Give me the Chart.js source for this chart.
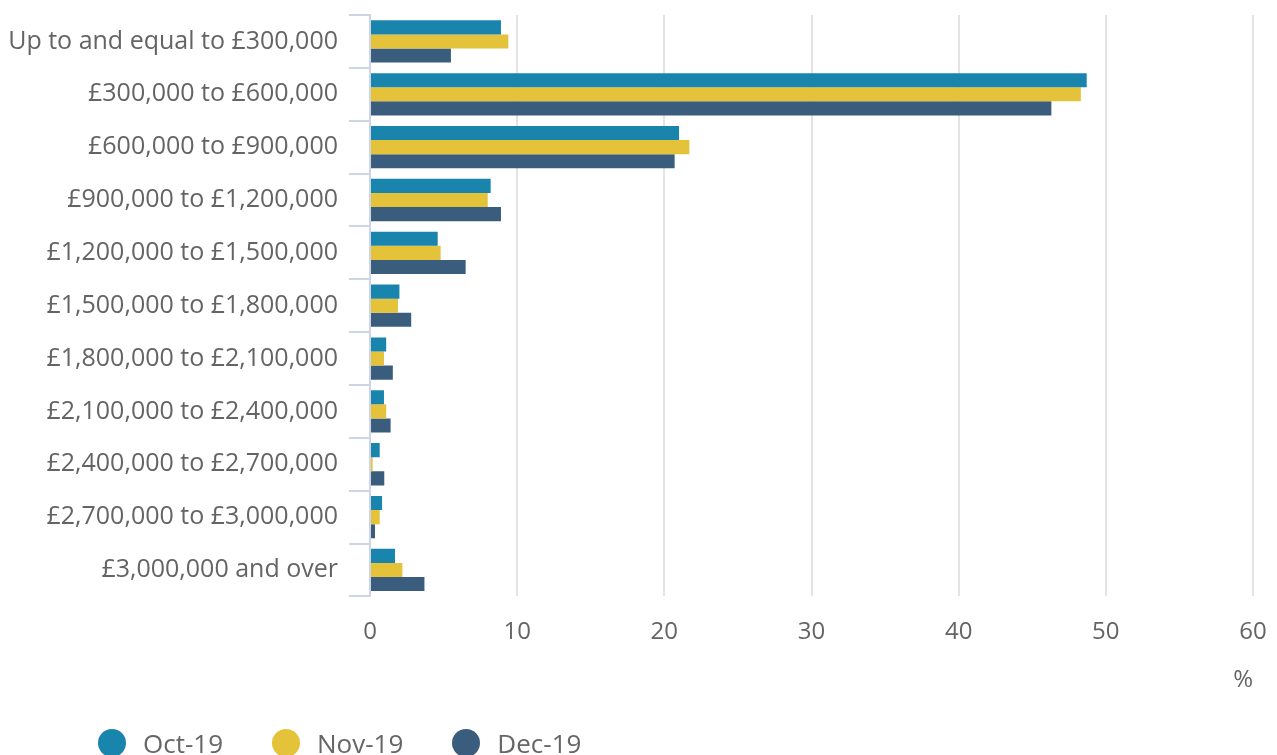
<!DOCTYPE html>
<html>
<head>
<meta charset="utf-8">
<script src="https://cdn.jsdelivr.net/npm/chart.js@4/dist/chart.umd.min.js"></script>
<style>
  html, body { margin: 0; padding: 0; background: #fff; overflow: hidden; }
  #wrap { position: relative; width: 1277px; height: 755px; }
  #legend { position: absolute; left: 98px; top: 728px; display: flex; font-family: "Open Sans", sans-serif; font-size: 26px; color: #666; line-height: 30px; }
  #legend .item { display: flex; align-items: center; margin-right: 49px; }
  #legend .dot { width: 28px; height: 28px; border-radius: 50%; margin-right: 17px; }
</style>
</head>
<body>
<div id="wrap">
  <canvas id="mycanvas" width="1277" height="755"></canvas>
  <div id="legend"></div>
</div>
<script>
var categories = [
  "Up to and equal to £300,000",
  "£300,000 to £600,000",
  "£600,000 to £900,000",
  "£900,000 to £1,200,000",
  "£1,200,000 to £1,500,000",
  "£1,500,000 to £1,800,000",
  "£1,800,000 to £2,100,000",
  "£2,100,000 to £2,400,000",
  "£2,400,000 to £2,700,000",
  "£2,700,000 to £3,000,000",
  "£3,000,000 and over"
];
var seriesNames = ["Oct-19", "Nov-19", "Dec-19"];
var oct19 = [8.9, 48.7, 21.0, 8.2, 4.6, 2.0, 1.1, 0.95, 0.66, 0.82, 1.7];
var nov19 = [9.4, 48.3, 21.7, 8.0, 4.8, 1.9, 0.95, 1.1, 0.18, 0.66, 2.2];
var dec19 = [5.5, 46.3, 20.7, 8.9, 6.5, 2.8, 1.55, 1.4, 0.97, 0.34, 3.7];
var colours = ["#1a85ac", "#e4c23a", "#3a5d7e"];

var textColour = "#646464";
var fontFamily = "'Open Sans', sans-serif";

var values = [oct19, nov19, dec19];
var datasets = [];
for (var i = 0; i < seriesNames.length; i++) {
  datasets.push({
    label: seriesNames[i],
    data: values[i],
    backgroundColor: colours[i],
    borderWidth: 0,
    categoryPercentage: 0.8,
    barPercentage: 1.0
  });
}

var ctx = document.getElementById("mycanvas");
var barGraph = new Chart(ctx, {
  type: 'bar',
  data: { labels: categories, datasets: datasets },
  options: {
    indexAxis: 'y',
    responsive: false,
    animation: false,
    layout: { padding: { top: 15, right: 24, left: 0, bottom: 60 } },
    plugins: { legend: { display: false }, tooltip: { enabled: false } },
    scales: {
      x: {
        min: 0,
        max: 60,
        afterFit: function(scale) { scale.paddingLeft = 0; scale.paddingRight = 0; },
        ticks: { stepSize: 10, padding: 21, color: textColour, font: { family: fontFamily, size: 24 } },
        grid: { color: "#e3e3e3", lineWidth: 2, drawTicks: false },
        border: { display: false },
        title: { display: true, text: '%', align: 'end', color: textColour, font: { family: fontFamily, size: 24 }, padding: { top: -1, bottom: 0 } }
      },
      y: {
        afterFit: function(scale) { scale.width = 370; scale.paddingTop = 0; scale.paddingBottom = 0; },
        ticks: { padding: 11, color: textColour, font: { family: fontFamily, size: 25 } },
        grid: { drawOnChartArea: false, color: "#cdd5e6", lineWidth: 2, tickLength: 21 },
        border: { color: "#cdd5e6", width: 2 }
      }
    }
  }
});

// legend built from the same series names and colours
var legend = document.getElementById("legend");
for (var j = 0; j < seriesNames.length; j++) {
  var item = document.createElement("div");
  item.className = "item";
  var dot = document.createElement("span");
  dot.className = "dot";
  dot.style.background = colours[j];
  var txt = document.createElement("span");
  txt.textContent = seriesNames[j];
  item.appendChild(dot);
  item.appendChild(txt);
  legend.appendChild(item);
}
</script>
</body>
</html>
